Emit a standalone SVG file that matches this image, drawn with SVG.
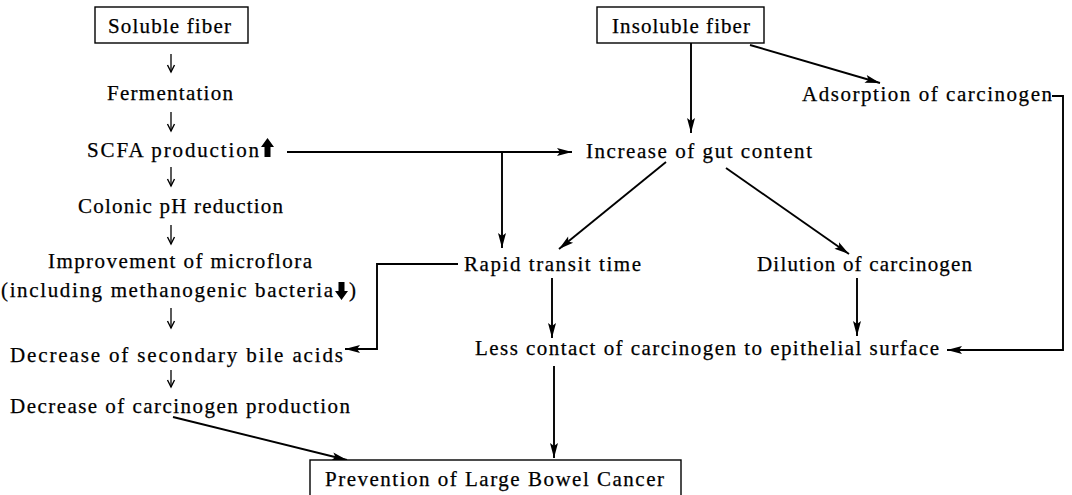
<svg xmlns="http://www.w3.org/2000/svg" width="1072" height="495" viewBox="0 0 1072 495">
<defs>
<marker id="ah" markerUnits="userSpaceOnUse" markerWidth="16" markerHeight="10" refX="15" refY="4" orient="auto" overflow="visible">
<path d="M0,0 L15,4 L0,8 L3,4 z" fill="#000"/>
</marker>
<marker id="sh" markerUnits="userSpaceOnUse" markerWidth="10" markerHeight="10" refX="7" refY="3.5" orient="auto" overflow="visible">
<path d="M0,0 L7,3.5 L0,7" fill="none" stroke="#000" stroke-width="1.4"/>
</marker>
<style>
text{font-family:"Liberation Serif","Times New Roman",serif;font-size:21px;fill:#000;stroke:#000;stroke-width:0.25}
.box{fill:#fff;stroke:#000;stroke-width:1.4}
.c{fill:none;stroke:#000;stroke-width:1.9;marker-end:url(#ah)}
.s{fill:none;stroke:#000;stroke-width:1.3;marker-end:url(#sh)}
</style>
</defs>
<rect width="1072" height="495" fill="#fff"/>
<g id="connectors">
<line class="s" x1="171" y1="54" x2="171" y2="72"/>
<line class="s" x1="171" y1="112" x2="171" y2="131"/>
<line class="s" x1="171" y1="167" x2="171" y2="186"/>
<line class="s" x1="171" y1="225" x2="171" y2="244"/>
<line class="s" x1="171" y1="308" x2="171" y2="328"/>
<line class="s" x1="171" y1="370" x2="171" y2="387"/>
<line class="c" x1="287" y1="152" x2="572" y2="152"/>
<line class="c" x1="502" y1="152" x2="502" y2="248"/>
<line class="c" x1="691" y1="43" x2="691" y2="133"/>
<line class="c" x1="750" y1="45" x2="880" y2="83"/>
<line class="c" x1="666" y1="162" x2="559" y2="249"/>
<line class="c" x1="726" y1="168" x2="849" y2="254"/>
<polyline class="c" points="458,264 377,264 377,349 345,349"/>
<line class="c" x1="552" y1="278" x2="552" y2="338"/>
<line class="c" x1="857" y1="278" x2="857" y2="336"/>
<polyline class="c" points="1052,96 1063,96 1063,350 947,350"/>
<line class="c" x1="554" y1="366" x2="554" y2="458"/>
<line class="c" x1="173" y1="417" x2="347" y2="460"/>
</g>
<g id="soluble">
<rect class="box" x="95" y="7" width="153" height="36"/>
<text x="108" y="33" textLength="123" lengthAdjust="spacing">Soluble fiber</text>
</g>
<g id="fermentation">
<text x="107" y="100" textLength="126" lengthAdjust="spacing">Fermentation</text>
</g>
<g id="scfa">
<text x="87" y="157" textLength="172" lengthAdjust="spacing">SCFA production</text>
<path d="M267.5,138 L274,147 L270.5,147 L270.5,157 L264.5,157 L264.5,147 L261,147 z" fill="#000"/>
</g>
<g id="colonic">
<text x="78" y="213" textLength="205" lengthAdjust="spacing">Colonic pH reduction</text>
</g>
<g id="microflora">
<text x="48" y="268" textLength="264" lengthAdjust="spacing">Improvement of microflora</text>
<text x="1" y="297" textLength="332" lengthAdjust="spacing">(including methanogenic bacteria</text>
<path d="M338.5,282 L344.5,282 L344.5,291 L348,291 L341.5,300 L335,291 L338.5,291 z" fill="#000"/>
<text x="349" y="297">)</text>
</g>
<g id="bile">
<text x="10" y="362" textLength="333" lengthAdjust="spacing">Decrease of secondary bile acids</text>
</g>
<g id="carcprod">
<text x="10" y="413" textLength="340" lengthAdjust="spacing">Decrease of carcinogen production</text>
</g>
<g id="insoluble">
<rect class="box" x="597" y="7" width="167" height="36"/>
<text x="612" y="33" textLength="138" lengthAdjust="spacing">Insoluble fiber</text>
</g>
<g id="gut">
<text x="586" y="158" textLength="226" lengthAdjust="spacing">Increase of gut content</text>
</g>
<g id="adsorption">
<text x="802" y="101" textLength="250" lengthAdjust="spacing">Adsorption of carcinogen</text>
</g>
<g id="rapid">
<text x="464" y="271" textLength="177" lengthAdjust="spacing">Rapid transit time</text>
</g>
<g id="dilution">
<text x="757" y="271" textLength="215" lengthAdjust="spacing">Dilution of carcinogen</text>
</g>
<g id="contact">
<text x="475" y="355" textLength="464" lengthAdjust="spacing">Less contact of carcinogen to epithelial surface</text>
</g>
<g id="prevention">
<rect class="box" x="310" y="460" width="371" height="40"/>
<text x="325" y="486" textLength="339" lengthAdjust="spacing">Prevention of Large Bowel Cancer</text>
</g>
</svg>
